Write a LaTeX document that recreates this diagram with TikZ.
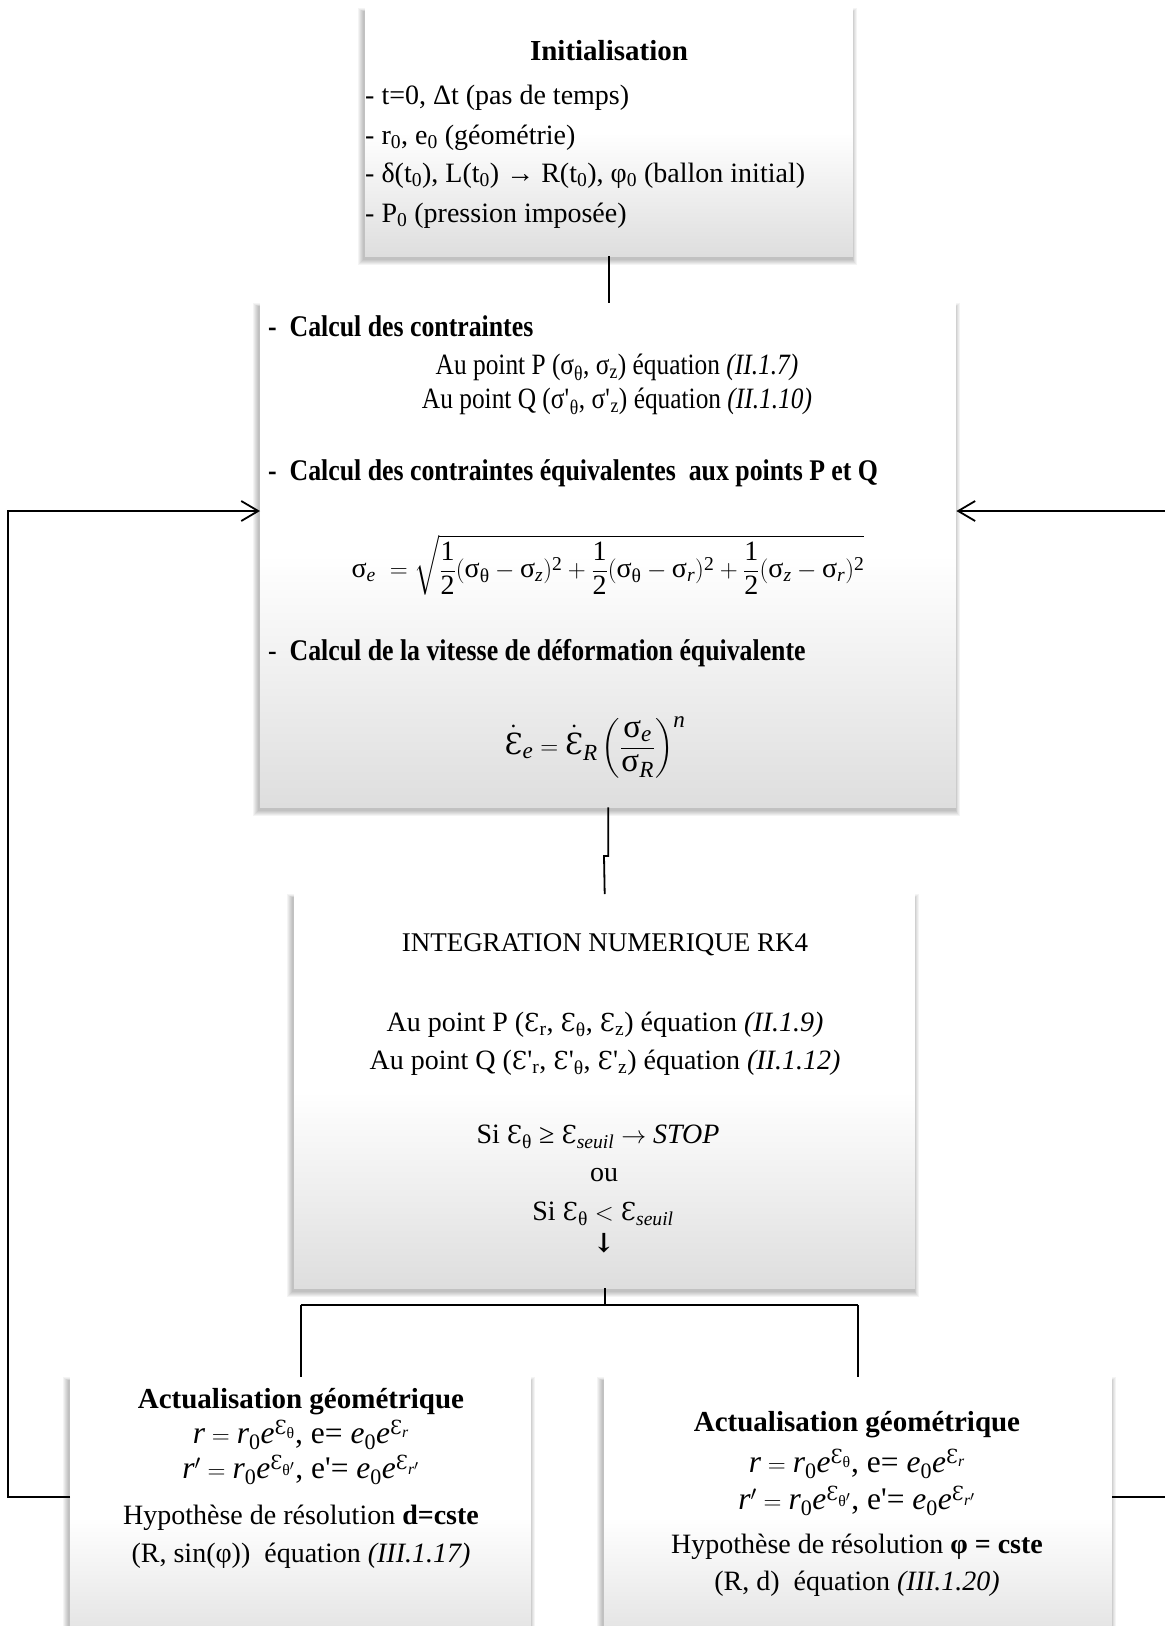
\documentclass[tikz,border=0pt]{standalone}
\usepackage{amsmath}
\usepackage{fontspec}
\setmainfont{Liberation Serif}
\newfontfamily\condfont{Liberation Serif}[FakeStretch=0.86]
\newfontfamily\dvs{DejaVu Serif}[Scale=0.88]
\usetikzlibrary{arrows.meta}
\newcommand{\Ep}{{\dvs Ɛ}}
\newcommand{\mE}{\text{\dvs Ɛ}}
\newcommand{\mEd}{{\overset{\text{.}}{\mE}}}
\newcommand{\ms}{\text{σ}}
\newcommand{\mth}{\text{θ}}
\newcommand{\mi}[1]{\textit{#1}}
\newcommand{\mt}[1]{\text{#1}}
\newcommand{\tsub}[1]{\textsubscript{#1}}
\newcommand{\ap}{\textquotesingle}
\tikzset{
  box/.style={rectangle, inner sep=0pt, anchor=north west,
    top color=white, bottom color=black!13, middle color=white},
  txt/.style={inner sep=0pt, yshift=-7pt, font=\fontsize{28}{34}\selectfont},
  ctxt/.style={inner sep=0pt, yshift=-7pt, font=\fontsize{29.5}{34}\selectfont\condfont},
  btxt/.style={inner sep=0pt, yshift=-7pt, font=\fontsize{30}{34}\selectfont\condfont\bfseries},
  htxt/.style={inner sep=0pt, yshift=-6pt, font=\fontsize{29}{34}\selectfont\bfseries},
  mtxt/.style={inner sep=0pt, yshift=-7pt, font=\fontsize{31.5}{36}\selectfont},
  conn/.style={line width=1.8pt, black},
  arr/.style={conn, -{Straight Barb[length=17pt,width=20pt,line width=1.8pt]}}
}
% name, x, y, width, height
\newcommand{\mkbox}[5]{%
  \foreach \i in {1,...,6} {%
    \fill[black, opacity=0.045] ({#2-1.5-\i},{#3+4-0.6*\i}) rectangle ({#2+#4-1+0.8*\i},{#3+#5+3+\i});
  }
  \node[box, minimum width=#4pt, minimum height=#5pt] (#1) at (#2,#3) {};
}
\begin{document}
\begin{tikzpicture}[x=1pt,y=-1pt]
\useasboundingbox (0,0) rectangle (1165,1626);
\clip (0,0) rectangle (1165,1626);
\fill[white] (0,0) rectangle (1165,1626);
% boxes
\mkbox{b1}{365}{8}{488}{248}
\mkbox{b2}{260}{303}{696}{504}
\mkbox{b3}{294}{894}{621}{394}
\mkbox{b4}{70}{1377}{461}{280}
\mkbox{b5}{604}{1377}{508}{280}
% connector coordinates
\coordinate (j1) at (604,856);
\coordinate (j2) at (604,1305);
\coordinate (l1) at (8,1497);
\coordinate (l2) at (8,511);
\coordinate (r1) at (1170,1497);
\coordinate (r2) at (1170,511);
% connectors
\draw[conn] (b1.south) -- (b1.south |- b2.north);
\draw[conn] (b2.south) -- (b2.south |- j1) -- (j1) -- (b3.north);
\draw[conn] (b3.south) -- (b3.south |- j2);
\draw[conn] (b4.north |- j2) -- (b5.north |- j2);
\draw[conn] (b4.north |- j2) -- (b4.north);
\draw[conn] (b5.north |- j2) -- (b5.north);
\draw[arr] (l1 -| b4.west) -- (l1) -- (l2) -- (l2 -| b2.west);
\draw[conn] (r1 -| b5.east) -- (r1);
\draw[arr] (r2) -- (r2 -| b2.east);
% box 1 text
\node[htxt, anchor=mid] (t1a) at (609,52) {Initialisation};
\node[txt, anchor=mid west] (t1b) at (365,95) {- t=0, Δt (pas de temps)};
\node[txt, anchor=mid west] (t1c) at (365,135) {- r\tsub{0}, e\tsub{0} (géométrie)};
\node[txt, anchor=mid west] (t1d) at (365,173) {- δ(t\tsub{0}), L(t\tsub{0}) → R(t\tsub{0}), φ\tsub{0} (ballon initial)};
\node[txt, anchor=mid west] (t1e) at (365,213) {- P\tsub{0} (pression imposée)};
% box 2 text
\node[btxt, anchor=mid west] (t2a) at (268,327) {-\ \ Calcul des contraintes};
\node[ctxt, anchor=mid] (t2b) at (617,365) {Au point P (σ\tsub{θ}, σ\tsub{z}) équation \textit{(II.1.7)}};
\node[ctxt, anchor=mid] (t2c) at (617,399) {Au point Q (σ\ap\tsub{θ}, σ\ap\tsub{z}) équation \textit{(II.1.10)}};
\node[btxt, anchor=mid west] (t2d) at (268,471) {-\ \ Calcul des contraintes équivalentes\ \ aux points P et Q};
\node[txt, anchor=mid] (t2e) at (608,568) {$\displaystyle \ms_{\mi{e}}\ = \sqrt{\frac{\mt{1}}{\mt{2}}(\ms_{\mth}-\ms_{\mi{z}})^{\mt{2}}+\frac{\mt{1}}{\mt{2}}(\ms_{\mth}-\ms_{\mi{r}})^{\mt{2}}+\frac{\mt{1}}{\mt{2}}(\ms_{\mi{z}}-\ms_{\mi{r}})^{\mt{2}}}$};
\node[btxt, anchor=mid west] (t2f) at (268,651) {{\mdseries -}\ \ Calcul de la vitesse de déformation équivalente};
\node[mtxt, font=\fontsize{33}{36}\selectfont, anchor=mid] (t2g) at (595,745) {$\displaystyle \mEd_{\mi{e}} = \mEd_{\mi{R}}\left(\frac{\ms_{\mi{e}}}{\ms_{\mi{R}}}\right)^{\mi{n}}$};
% box 3 text
\node[txt, font=\fontsize{27}{34}\selectfont, anchor=mid] (t3a) at (605,942) {INTEGRATION NUMERIQUE RK4};
\node[txt, anchor=mid] (t3b) at (605,1022) {Au point P (\Ep\tsub{r}, \Ep\tsub{θ}, \Ep\tsub{z}) équation \textit{(II.1.9)}};
\node[txt, anchor=mid] (t3c) at (605,1060) {Au point Q (\Ep\ap\tsub{r}, \Ep\ap\tsub{θ}, \Ep\ap\tsub{z}) équation \textit{(II.1.12)}};
\node[txt, anchor=mid] (t3d) at (598,1134) {Si \Ep\tsub{θ} ≥ $\mE_{\mi{seuil}} \rightarrow \mi{STOP}$};
\node[txt, anchor=mid] (t3e) at (604,1172) {ou};
\node[txt, anchor=mid] (t3f) at (603,1211) {Si \Ep\tsub{θ} $< \mE_{\mi{seuil}}$};
\node[txt, font=\fontsize{30}{34}\selectfont\dvs\bfseries, anchor=mid] (t3g) at (604,1243) {↓};
% box 4 text
\node[htxt, anchor=mid] (t4a) at (301,1400) {Actualisation géométrique};
\node[mtxt, anchor=mid] (t4b) at (301,1434) {$\mi{r} = \mi{r}_{\mt{0}}\mi{e}^{\mE_{\mth}}$, e= $\mi{e}_{\mt{0}}\mi{e}^{\mE_{\mi{r}}}$};
\node[mtxt, anchor=mid] (t4c) at (301,1469) {$\mi{r}' = \mi{r}_{\mt{0}}\mi{e}^{\mE_{\mth'}}$, e\ap= $\mi{e}_{\mt{0}}\mi{e}^{\mE_{\mi{r}'}}$};
\node[txt, anchor=mid] (t4d) at (301,1515) {Hypothèse de résolution \textbf{d=cste}};
\node[txt, anchor=mid] (t4e) at (301,1553) {(R, sin(φ))\ \ équation \textit{(III.1.17)}};
% box 5 text
\node[htxt, anchor=mid] (t5a) at (857,1423) {Actualisation géométrique};
\node[mtxt, anchor=mid] (t5b) at (857,1463) {$\mi{r} = \mi{r}_{\mt{0}}\mi{e}^{\mE_{\mth}}$, e= $\mi{e}_{\mt{0}}\mi{e}^{\mE_{\mi{r}}}$};
\node[mtxt, anchor=mid] (t5c) at (857,1500) {$\mi{r}' = \mi{r}_{\mt{0}}\mi{e}^{\mE_{\mth'}}$, e\ap= $\mi{e}_{\mt{0}}\mi{e}^{\mE_{\mi{r}'}}$};
\node[txt, anchor=mid] (t5d) at (857,1544) {Hypothèse de résolution \textbf{φ = cste}};
\node[txt, anchor=mid] (t5e) at (857,1581) {(R, d)\ \ équation \textit{(III.1.20)}};
\end{tikzpicture}
\end{document}
